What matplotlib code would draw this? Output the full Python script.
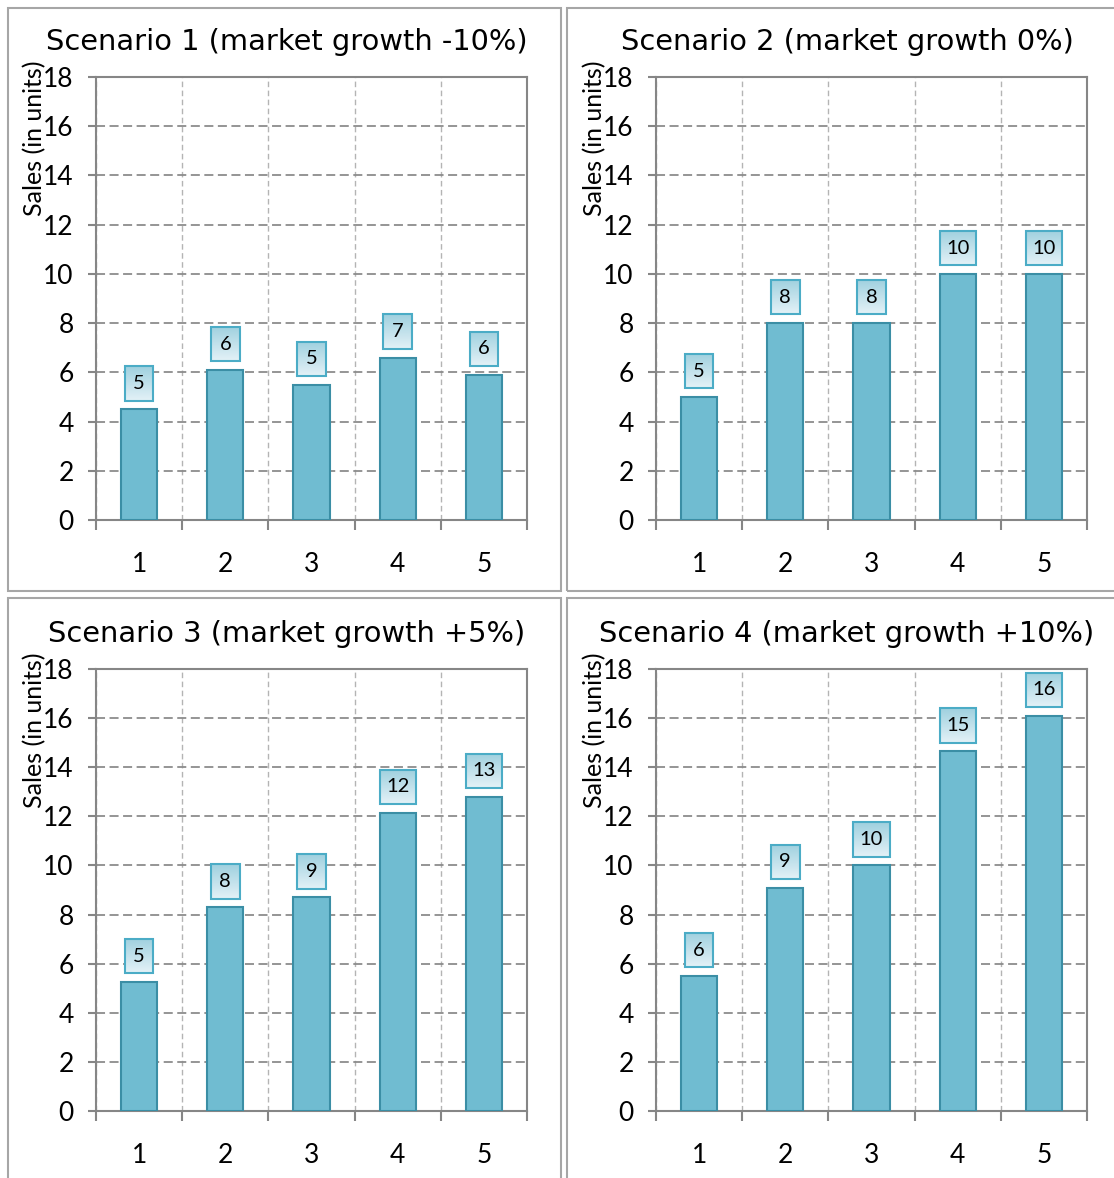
import numpy as np
import matplotlib
matplotlib.use("Agg")
import matplotlib.pyplot as plt
from matplotlib.patches import Rectangle
from matplotlib.colors import LinearSegmentedColormap

# --- data ---
periods = [1, 2, 3, 4, 5]
titles = [
    "Scenario 1 (market growth -10%)",
    "Scenario 2 (market growth 0%)",
    "Scenario 3 (market growth +5%)",
    "Scenario 4 (market growth +10%)",
]
sales_s1 = [4.5, 6.1, 5.5, 6.6, 5.9]
sales_s2 = [5.0, 8.0, 8.0, 10.0, 10.0]
sales_s3 = [5.25, 8.3, 8.7, 12.15, 12.8]
sales_s4 = [5.5, 9.1, 10.0, 14.65, 16.1]
labels_s1 = [5, 6, 5, 7, 6]
labels_s2 = [5, 8, 8, 10, 10]
labels_s3 = [5, 8, 9, 12, 13]
labels_s4 = [6, 9, 10, 15, 16]
y_ticks = [0, 2, 4, 6, 8, 10, 12, 14, 16, 18]
ylabel = "Sales (in units)"

all_sales = [sales_s1, sales_s2, sales_s3, sales_s4]
all_labels = [labels_s1, labels_s2, labels_s3, labels_s4]

W, H = 1114, 1178
fig = plt.figure(figsize=(W / 100, H / 100), dpi=100)

bar_fill = "#70bcd1"
bar_edge = "#3b8ea5"
box_edge = "#4bacc6"
grad = LinearSegmentedColormap.from_list("g", ["#9fd0df", "#e4f2f7"])
tick_font = "Lato"

# panel frames (pixel boxes)
frames = [(8, 8, 561, 591), (567, 8, 1116, 591), (8, 598, 561, 1180), (567, 598, 1116, 1180)]
for x0, y0, x1, y1 in frames:
    fig.patches.append(Rectangle((x0 / W, 1 - y1 / H), (x1 - x0) / W, (y1 - y0) / H,
                                 transform=fig.transFigure, fill=False,
                                 edgecolor="#a6a6a6", lw=1.5))

# axes positions in pixels: left, top, right, bottom
ax_pix = [(96, 77, 527, 520), (656, 77, 1087, 520), (96, 669, 527, 1111), (656, 669, 1087, 1111)]
title_pos = [(287, 42), (847, 42), (287, 634), (847, 634)]

for k in range(4):
    l, t, r, b = ax_pix[k]
    ax = fig.add_axes([l / W, 1 - b / H, (r - l) / W, (b - t) / H])
    sales = all_sales[k]
    labs = all_labels[k]
    ax.set_axisbelow(True)
    ax.bar(periods, sales, width=0.42, color=bar_fill, edgecolor=bar_edge, lw=1.5, zorder=3)

    # data label boxes with gradient
    for xi, v, lab in zip(periods, sales, labs):
        w = 0.33 if lab < 10 else 0.42
        y0 = v + 0.35
        hgt = 1.4
        ax.imshow(np.linspace(0, 1, 50).reshape(-1, 1), cmap=grad, origin="upper",
                  extent=[xi - w / 2, xi + w / 2, y0, y0 + hgt], aspect="auto",
                  zorder=4, interpolation="bilinear")
        ax.add_patch(Rectangle((xi - w / 2, y0), w, hgt, fill=False,
                               edgecolor=box_edge, lw=1.5, zorder=5))
        ax.text(xi, y0 + hgt / 2, str(lab), ha="center", va="center",
                fontsize=14.5, family=tick_font, zorder=6)

    ax.set_xlim(0.5, 5.5)
    ax.set_ylim(0, 18)
    ax.set_yticks(y_ticks)
    ax.set_xticks(periods)
    ax.set_xticks([0.5, 1.5, 2.5, 3.5, 4.5, 5.5], minor=True)
    ax.tick_params(axis="x", which="major", length=0, pad=23, labelsize=19)
    ax.tick_params(axis="x", which="minor", length=7, width=1.5, color="#868686")
    ax.tick_params(axis="y", length=6, width=1.5, color="#868686", pad=10, labelsize=19)
    for lab in ax.get_xticklabels() + ax.get_yticklabels():
        lab.set_family(tick_font)

    ax.grid(axis="y", which="major", color="#8c8c8c", lw=1.3, dashes=(5, 2.5))
    ax.grid(axis="x", which="minor", color="#b4b4b4", lw=1.0, dashes=(4, 2.5))
    for s in ax.spines.values():
        s.set_color("#868686")
        s.set_linewidth(1.5)

    ax.text(-0.142, 0.862, ylabel, rotation=90, ha="center", va="center",
            fontsize=18, family=tick_font, transform=ax.transAxes)
    tx, ty = title_pos[k]
    fig.text(tx / W, 1 - ty / H, titles[k], ha="center", va="center",
             fontsize=20.8, family="DejaVu Sans")

fig.savefig("out.png", dpi=100)
